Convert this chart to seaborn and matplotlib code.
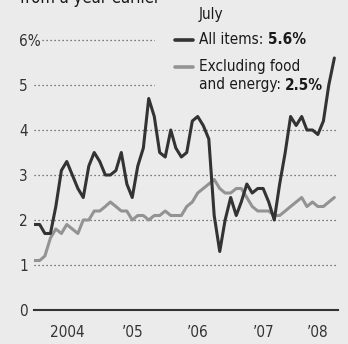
import pandas as pd
import numpy as np
import matplotlib
matplotlib.use('Agg')
import matplotlib.pyplot as plt
from matplotlib.patches import Rectangle
import seaborn as sns

# ==========================================
# Data: CPI, change from a year earlier (Dec 2003 - Jul 2008)
# ==========================================
MONTHS = pd.date_range('2003-12-31', '2008-07-31', freq='ME')
ALL_ITEMS = [1.9,
             1.9, 1.7, 1.7, 2.3, 3.1, 3.3, 3.0, 2.7, 2.5, 3.2, 3.5, 3.3,
             3.0, 3.0, 3.1, 3.5, 2.8, 2.5, 3.2, 3.6, 4.7, 4.3, 3.5, 3.4,
             4.0, 3.6, 3.4, 3.5, 4.2, 4.3, 4.1, 3.8, 2.1, 1.3, 2.0, 2.5,
             2.1, 2.4, 2.8, 2.6, 2.7, 2.7, 2.4, 2.0, 2.8, 3.5, 4.3, 4.1,
             4.3, 4.0, 4.0, 3.9, 4.2, 5.0, 5.6]
CORE = [1.1,
        1.1, 1.2, 1.6, 1.8, 1.7, 1.9, 1.8, 1.7, 2.0, 2.0, 2.2, 2.2,
        2.3, 2.4, 2.3, 2.2, 2.2, 2.0, 2.1, 2.1, 2.0, 2.1, 2.1, 2.2,
        2.1, 2.1, 2.1, 2.3, 2.4, 2.6, 2.7, 2.8, 2.9, 2.7, 2.6, 2.6,
        2.7, 2.7, 2.5, 2.3, 2.2, 2.2, 2.2, 2.1, 2.1, 2.2, 2.3, 2.4,
        2.5, 2.3, 2.4, 2.3, 2.3, 2.4, 2.5]
Y_TICKS = [0, 1, 2, 3, 4, 5, 6]
Y_LABELS = ['0', '1', '2', '3', '4', '5', '6%']
YEAR_LABELS = ['2004', '\u201905', '\u201906', '\u201907', '\u201908']

BG = '#ebebeb'
DARK = '#333333'
GRAY = '#939393'
TXT = '#1a1a1a'
FS = 11

df = pd.DataFrame({'date': MONTHS, 'All items': ALL_ITEMS, 'Core': CORE})
long_df = df.melt(id_vars='date', var_name='series', value_name='pct')

sns.set_style('white')
plt.rcParams['font.family'] = ['DejaVu Sans']
plt.rcParams['font.stretch'] = 'condensed'

W, H = 348, 344
fig = plt.figure(figsize=(W / 100, H / 100), dpi=100, facecolor=BG)
ax = fig.add_axes([34.3 / W, (H - 310) / H, (338.3 - 34.3) / W, 6.2 * 45 / H])
ax.set_facecolor(BG)

sns.lineplot(data=long_df, x='date', y='pct', hue='series',
             palette={'All items': DARK, 'Core': GRAY},
             hue_order=['Core', 'All items'],
             linewidth=2.2, legend=False, ax=ax, zorder=3)
ax.set_xlabel('')
ax.set_ylabel('')

# axis limits
ax.set_xlim(pd.Timestamp('2004-01-01'), pd.Timestamp('2008-08-22'))
ax.set_ylim(0, 6.2)

# y gridlines / labels
ax.set_yticks(Y_TICKS)
ax.set_yticklabels(Y_LABELS, fontsize=FS, color=DARK)
for lab in ax.get_yticklabels():
    lab.set_horizontalalignment('left')
    lab.set_bbox(dict(facecolor=BG, edgecolor='none', pad=0.5))
ax.tick_params(axis='y', length=0, pad=11)
ax.set_axisbelow(True)
ax.yaxis.grid(True, color='#555555', linestyle=(0, (1, 2.2)), linewidth=0.9)
ax.xaxis.grid(False)
ax.get_ygridlines()[0].set_visible(False)

# x ticks: year boundaries, labels centred in each year
year_ticks = [pd.Timestamp(f'{y}-01-01') for y in range(2004, 2009)]
ax.set_xticks(year_ticks)
ax.set_xticklabels([])
mid = [pd.Timestamp(f'{y}-07-01') for y in range(2004, 2008)] + [pd.Timestamp('2008-04-27')]
ax.set_xticks(mid, minor=True)
ax.set_xticklabels(YEAR_LABELS, minor=True, fontsize=FS, color=DARK)
ax.tick_params(axis='x', which='major', length=12, width=1.3, color=DARK, direction='out')
ax.tick_params(axis='x', which='minor', length=0, pad=11)

for s in ['left', 'right', 'top']:
    ax.spines[s].set_visible(False)
ax.spines['bottom'].set_color(DARK)
ax.spines['bottom'].set_linewidth(1.5)

# legend area blocks the top gridlines
ax.add_patch(Rectangle(((155 - 34.3) / 304, (310 - 98) / (6.2 * 45)), 1, 1,
                       transform=ax.transAxes, facecolor=BG, edgecolor='none',
                       zorder=1, clip_on=False))


def fx(px):
    return px / W


def fy(py):
    return 1 - py / H


# title (cut off at top, as in the reference)
fig.text(fx(20), fy(3), 'from a year earlier', fontsize=FS + 1, color=TXT,
         va='baseline', ha='left')

# custom legend
fig.text(fx(199), fy(15), 'July', fontsize=FS, color=TXT, va='center', ha='left')
fig.add_artist(plt.Line2D([fx(175), fx(193)], [fy(40), fy(40)], color=DARK, lw=2.6))
fig.add_artist(plt.Line2D([fx(175), fx(193)], [fy(67), fy(67)], color=GRAY, lw=2.6))
t1 = fig.text(fx(199), fy(40), 'All items: ', fontsize=FS, color=TXT,
              va='center', ha='left')
ax.annotate('5.6%', xy=(1, 0), xycoords=t1, va='bottom', ha='left',
            fontsize=FS, fontweight='bold', color=TXT, annotation_clip=False)
fig.text(fx(199), fy(66), 'Excluding food', fontsize=FS, color=TXT,
         va='center', ha='left')
t2 = fig.text(fx(199), fy(85), 'and energy: ', fontsize=FS, color=TXT,
              va='center', ha='left')
ax.annotate('2.5%', xy=(1, 0), xycoords=t2, va='bottom', ha='left',
            fontsize=FS, fontweight='bold', color=TXT, annotation_clip=False)

fig.savefig('out.png', dpi=100, facecolor=BG)
